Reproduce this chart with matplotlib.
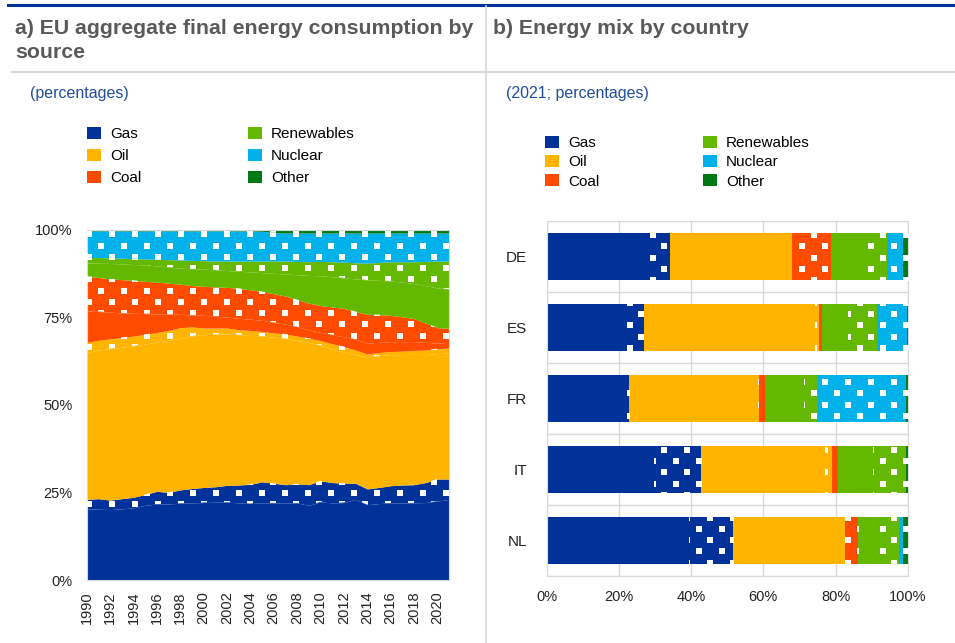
import numpy as np
import matplotlib.pyplot as plt
from matplotlib.patches import Patch
from matplotlib.lines import Line2D

plt.rcParams['font.family'] = ['Liberation Sans', 'DejaVu Sans']

# %% panel a: EU final energy consumption by source (percentages)
# "_dot" = the dotted part of each source
years = np.arange(1990, 2022)
gas = [20.3, 20.2, 20.1, 20.3, 20.6, 21.3, 21.7, 21.7, 21.9, 22.0, 22.1, 22.2, 22.2, 22.0, 21.8, 22.0,
       22.0, 21.9, 22.0, 21.3, 22.3, 22.0, 22.1, 23.0, 21.5, 21.8, 22.0, 22.0, 22.0, 22.1, 22.5, 23.0]
gas_dot = [2.7, 3.0, 2.7, 2.9, 3.0, 3.1, 3.6, 3.3, 3.8, 4.1, 4.3, 4.4, 4.8, 5.1, 5.5, 6.0,
           5.6, 5.3, 5.4, 5.9, 6.0, 5.8, 5.5, 4.6, 4.5, 4.6, 4.9, 5.1, 5.2, 5.7, 6.3, 5.8]
oil = [41.8, 42.4, 43.2, 43.2, 43.2, 42.9, 42.6, 43.4, 43.3, 43.5, 43.6, 43.5, 43.2, 42.9, 42.5, 41.6,
       41.7, 41.7, 40.9, 40.6, 38.7, 38.1, 37.4, 36.7, 37.7, 37.6, 37.4, 37.2, 37.2, 36.5, 35.8, 35.9]
oil_dot = [3.0, 2.8, 2.8, 2.8, 2.8, 2.8, 2.7, 2.8, 3.0, 2.6, 1.9, 1.8, 1.7, 1.4, 1.4, 1.3,
           1.2, 1.3, 1.3, 1.2, 1.3, 1.5, 1.6, 1.3, 0.8, 0.9, 0.9, 1.0, 1.1, 1.3, 1.4, 1.5]
coal = [9.0, 8.2, 7.6, 7.0, 6.5, 5.9, 5.3, 4.6, 3.8, 3.4, 3.6, 3.4, 3.1, 3.3, 3.2, 3.2,
        3.0, 2.8, 2.7, 2.3, 2.4, 2.6, 2.8, 3.1, 3.1, 2.9, 2.8, 2.7, 2.5, 2.2, 1.6, 1.6]
coal_dot = [9.9, 9.7, 9.5, 9.5, 9.4, 9.2, 9.1, 8.9, 8.6, 8.4, 8.3, 8.3, 8.5, 8.5, 8.4, 8.2,
            8.2, 8.0, 7.7, 7.7, 7.6, 7.9, 8.1, 7.9, 8.2, 7.9, 7.5, 7.1, 6.6, 5.5, 4.4, 4.0]
ren = [3.8, 4.1, 4.4, 4.5, 4.5, 4.7, 4.6, 4.6, 4.6, 4.8, 4.9, 4.9, 4.8, 4.9, 5.1, 5.4,
       5.8, 6.3, 7.1, 7.9, 8.5, 8.6, 8.7, 9.3, 9.8, 9.8, 9.8, 9.9, 10.0, 10.7, 11.3, 11.2]
ren_dot = [1.5, 1.6, 1.6, 1.6, 1.7, 1.7, 1.9, 2.1, 2.3, 2.4, 2.4, 2.5, 2.7, 2.9, 3.1, 3.3,
           3.5, 3.7, 3.8, 3.9, 4.1, 4.3, 4.5, 4.6, 4.8, 5.1, 5.5, 5.8, 6.2, 6.9, 7.7, 8.0]
nuclear = [7.6, 7.6, 7.7, 7.8, 7.9, 8.0, 8.1, 8.2, 8.3, 8.4, 8.5, 8.6, 8.6, 8.6, 8.6, 8.5,
           8.1, 8.0, 8.1, 8.2, 8.1, 8.2, 8.3, 8.5, 8.6, 8.4, 8.2, 8.2, 8.2, 8.1, 8.0, 8.0]
other = [0.4, 0.4, 0.4, 0.4, 0.4, 0.4, 0.4, 0.4, 0.4, 0.4, 0.4, 0.4, 0.4, 0.4, 0.4, 0.5,
         0.9, 1.0, 1.0, 1.0, 1.0, 1.0, 1.0, 1.0, 1.0, 1.0, 1.0, 1.0, 1.0, 1.0, 1.0, 1.0]

# %% panel b: energy mix by country, 2021 (percentages)
countries = ['DE', 'ES', 'FR', 'IT', 'NL']
gas_b = [28.4, 22.2, 21.2, 29.8, 39.5]
gas_dot_b = [5.8, 4.7, 1.6, 12.9, 12.2]
oil_b = [33.7, 47.4, 35.8, 34.4, 30.5]
oil_dot_b = [0.0, 1.0, 0.3, 2.0, 0.5]
coal_b = [2.0, 0.9, 1.6, 1.5, 0.0]
coal_dot_b = [8.9, 0.0, 0.0, 0.0, 3.6]
ren_b = [8.9, 7.3, 10.9, 9.9, 4.6]
ren_dot_b = [6.5, 7.9, 3.7, 9.0, 6.8]
nuclear_b = [4.4, 8.3, 24.3, 0.0, 1.1]
other_b = [1.4, 0.3, 0.6, 0.5, 1.2]

sources = ['Gas', 'Oil', 'Coal', 'Renewables', 'Nuclear', 'Other']
colors = ['#003299', '#FFB400', '#FF4B00', '#65B800', '#00B1EA', '#007816']

# (values, dotted?, colour index)
layers_a = [(gas, False, 0), (gas_dot, True, 0), (oil, False, 1), (oil_dot, True, 1),
            (coal, False, 2), (coal_dot, True, 2), (ren, False, 3), (ren_dot, True, 3),
            (nuclear, True, 4), (other, True, 5)]
layers_b = [(gas_b, False, 0), (gas_dot_b, True, 0), (oil_b, False, 1), (oil_dot_b, True, 1),
            (coal_b, False, 2), (coal_dot_b, True, 2), (ren_b, False, 3), (ren_dot_b, True, 3),
            (nuclear_b, True, 4), (other_b, True, 5)]

W, H = 955, 643
TITLE_C = '#595959'
SUB_C = '#1f4e9e'
GRID_C = '#d9d9d9'
TEXT_C = '#222222'

fig = plt.figure(figsize=(W / 100, H / 100), dpi=100)


def px_rect(x0, y0, x1, y1):
    # pixel box (origin top left) -> figure fraction
    return [x0 / W, 1 - y1 / H, (x1 - x0) / W, (y1 - y0) / H]


def dot_grid(ax, x0, y0, dx=23.0, dy=11.25):
    # staggered grid of pattern dots, fixed pixel spacing, in data coords
    bb = ax.bbox
    pts = []
    for j in range(-60, 80):
        y = y0 + j * dy
        if y < H - bb.y1 - 6 or y > H - bb.y0 + 6:
            continue
        off = dx / 2 if j % 2 else 0
        for i in range(-40, 40):
            x = x0 + off + i * dx
            if bb.x0 - 6 <= x <= bb.x1 + 6:
                pts.append((x, H - y))
    return ax.transData.inverted().transform(np.array(pts))


def add_dots(ax, grid, clip, transform=None):
    sc = ax.scatter(grid[:, 0], grid[:, 1], marker='s', s=13, c='white',
                    linewidths=0, zorder=3)
    if transform is None:
        sc.set_clip_path(clip)
    else:
        sc.set_clip_path(clip, transform)


# %% header lines and titles
fig.add_artist(Line2D([8 / W, 1], [1 - 4.5 / H] * 2, color='#003299', lw=2.2))
fig.add_artist(Line2D([12 / W, 1], [1 - 71.5 / H] * 2, color=GRID_C, lw=1.5))
fig.add_artist(Line2D([486 / W] * 2, [0, 1 - 6 / H], color=GRID_C, lw=1.2))

fig.text(15 / W, 1 - 33.5 / H, 'a) EU aggregate final energy consumption by', fontsize=15.3,
         fontweight='bold', color=TITLE_C, va='baseline')
fig.text(15 / W, 1 - 58.5 / H, 'source', fontsize=15.3, fontweight='bold', color=TITLE_C,
         va='baseline')
fig.text(493 / W, 1 - 34 / H, 'b) Energy mix by country', fontsize=15.3, fontweight='bold',
         color=TITLE_C, va='baseline')
fig.text(30 / W, 1 - 98 / H, '(percentages)', fontsize=11.5, color=SUB_C, va='baseline')
fig.text(506 / W, 1 - 98 / H, '(2021; percentages)', fontsize=11.5, color=SUB_C, va='baseline')

handles = [Patch(facecolor=c, edgecolor='none') for c in colors]
fig.legend(handles, sources, loc='upper left', bbox_to_anchor=(87 / W, 1 - 127 / H),
           ncol=2, frameon=False, fontsize=11, handlelength=0.9, handleheight=0.8,
           handletextpad=0.6, columnspacing=7.0, labelspacing=0.52, borderpad=0,
           borderaxespad=0)
fig.legend(handles, sources, loc='upper left', bbox_to_anchor=(545 / W, 1 - 136 / H),
           ncol=2, frameon=False, fontsize=11, handlelength=0.9, handleheight=0.8,
           handletextpad=0.6, columnspacing=6.8, labelspacing=0.33, borderpad=0,
           borderaxespad=0)

# %% panel a: stacked areas
ax1 = fig.add_axes(px_rect(86.7, 229.5, 449, 580))
ax1.set_xlim(years[0], years[-1])
ax1.set_ylim(0, 100)
grid_a = dot_grid(ax1, 89.3, 234.3)
bottom = np.zeros(len(years))
for vals, dotted, k in layers_a:
    top = bottom + np.array(vals)
    poly = ax1.fill_between(years, bottom, top, color=colors[k], lw=0, zorder=2)
    if dotted:
        add_dots(ax1, grid_a, poly.get_paths()[0], ax1.transData)
    bottom = top

ax1.set_yticks([0, 25, 50, 75, 100])
ax1.set_yticklabels(['0%', '25%', '50%', '75%', '100%'])
ax1.set_xticks(years[::2])
ax1.set_xticklabels([str(y) for y in years[::2]], rotation=90)
ax1.tick_params(axis='y', length=0, pad=10, labelsize=10.5, labelcolor=TEXT_C)
ax1.tick_params(axis='x', length=0, pad=8, labelsize=10.5, labelcolor=TEXT_C)
for s in ax1.spines.values():
    s.set_color(GRID_C)

# %% panel b: stacked bars
ax2 = fig.add_axes(px_rect(546.7, 221, 907.7, 576))
ax2.set_xlim(0, 100)
ax2.set_ylim(len(countries) - 0.5, -0.5)
grid_b = dot_grid(ax2, 652.7, 235, dy=11.3)
ypos = np.arange(len(countries))
left = np.zeros(len(countries))
for vals, dotted, k in layers_b:
    bars = ax2.barh(ypos, vals, left=left, height=0.66, color=colors[k], lw=0, zorder=2)
    if dotted:
        for rect in bars:
            if rect.get_width() > 0:
                add_dots(ax2, grid_b, rect)
    left = left + np.array(vals)

ax2.set_axisbelow(True)
ax2.set_xticks(np.arange(0, 101, 20))
ax2.set_xticklabels([f'{v}%' for v in range(0, 101, 20)])
ax2.set_yticks(ypos)
ax2.set_yticklabels(countries)
ax2.set_yticks(np.arange(-0.5, len(countries)), minor=True)
ax2.grid(axis='x', which='major', color=GRID_C, lw=1)
ax2.grid(axis='y', which='minor', color=GRID_C, lw=1)
ax2.tick_params(axis='both', which='both', length=0)
ax2.tick_params(axis='y', pad=14, labelsize=11, labelcolor=TEXT_C)
ax2.tick_params(axis='x', pad=10, labelsize=10.5, labelcolor=TEXT_C)
for s in ax2.spines.values():
    s.set_color(GRID_C)

fig.savefig('out.png', dpi=100)
